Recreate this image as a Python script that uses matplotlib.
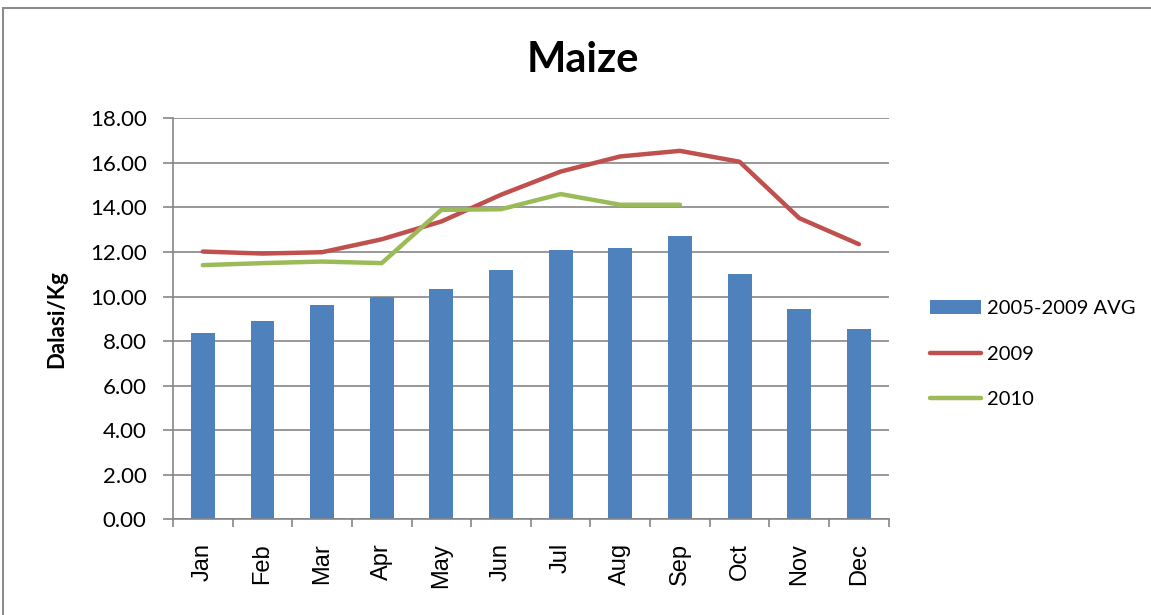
import numpy as np
import matplotlib
matplotlib.use('Agg')
from matplotlib import pyplot as plt
from matplotlib.patches import Rectangle

plt.rcParams['font.family'] = ['Lato', 'DejaVu Sans']

months = ['Jan', 'Feb', 'Mar', 'Apr', 'May', 'Jun', 'Jul', 'Aug', 'Sep', 'Oct', 'Nov', 'Dec']
avg_0509 = [8.38, 8.88, 9.60, 10.00, 10.36, 11.21, 12.08, 12.17, 12.74, 11.03, 9.46, 8.53]
price_2009 = [12.02, 11.93, 11.99, 12.57, 13.37, 14.57, 15.61, 16.29, 16.54, 16.05, 13.52, 12.35]
price_2010 = [11.41, 11.50, 11.57, 11.50, 13.89, 13.92, 14.60, 14.12, 14.12]

fig = plt.figure(figsize=(11.51, 6.15), dpi=100)
# outer chart frame
fig.patches.append(Rectangle((3 / 1151, -0.05), 1.2, 1.05 - 8 / 615, transform=fig.transFigure,
                             fill=False, edgecolor='#8c8c8c', linewidth=1.5))

ax = fig.add_axes([0.1503, 0.1556, 0.6218, 0.652])
x = np.arange(len(months))
bars = ax.bar(x, avg_0509, width=0.4, color='#4F81BD', label='2005-2009 AVG', zorder=2)
l09, = ax.plot(x, price_2009, color='#C0504D', linewidth=3.2, label='2009', zorder=3,
               solid_capstyle='round')
l10, = ax.plot(np.arange(len(price_2010)), price_2010, color='#9BBB59', linewidth=3.2, label='2010',
               zorder=3, solid_capstyle='round')

ax.set_xlim(-0.5, 11.5)
ax.set_ylim(0, 18)
ax.set_yticks(np.arange(0, 18.1, 2))
ax.set_yticklabels(['%.2f' % v for v in np.arange(0, 18.1, 2)], fontsize=16)
ax.yaxis.grid(True, color='#868686', linewidth=1.2)
ax.set_axisbelow(True)
ax.tick_params(axis='y', length=7, color='#868686', width=1.2, pad=12)

ax.set_xticks(np.arange(-0.5, 12, 1))
ax.set_xticklabels([])
ax.tick_params(axis='x', which='major', length=6, color='#868686', width=1.2)
ax.set_xticks(x, minor=True)
ax.set_xticklabels(months, minor=True, rotation=90, fontsize=17, family='Liberation Sans')
ax.tick_params(axis='x', which='minor', length=0, pad=17)

for side in ['top', 'right']:
    ax.spines[side].set_visible(False)
for side in ['left', 'bottom']:
    ax.spines[side].set_color('#868686')
    ax.spines[side].set_linewidth(1.2)

ax.set_ylabel('Dalasi/Kg', fontsize=16, fontweight='bold')
ax.yaxis.set_label_coords(-0.148, 0.5)
fig.text(0.5065, 0.902, 'Maize', fontsize=30, fontweight='bold', ha='center', va='center')

fig.legend([bars, l09, l10], ['2005-2009 AVG', '2009', '2010'],
           loc='center left', bbox_to_anchor=(0.808, 0.424), frameon=False, fontsize=14.5,
           handlelength=2.55, handleheight=0.7, labelspacing=1.4, handletextpad=0.3,
           borderpad=0, borderaxespad=0)

fig.savefig('out.png', dpi=100)
